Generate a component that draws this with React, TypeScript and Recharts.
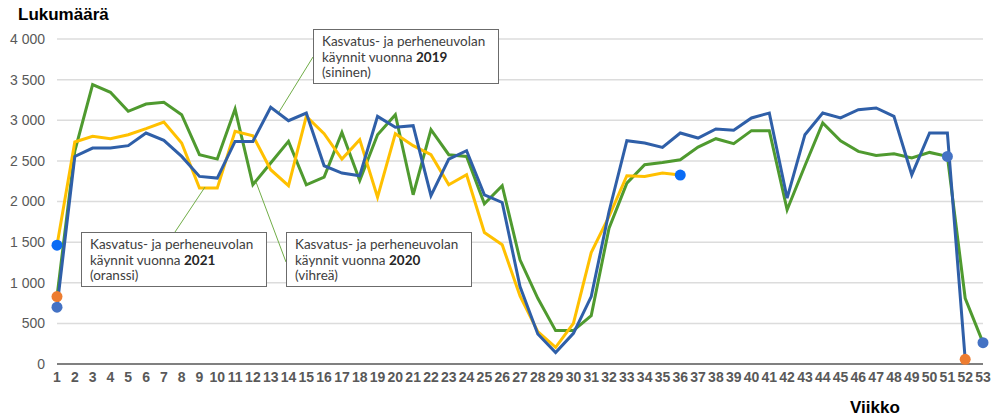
import React from "react";
import { CartesianGrid, Line, LineChart, XAxis, YAxis } from "recharts";

// viikot 1-53
const weeks = [
  1, 2, 3, 4, 5, 6, 7, 8, 9, 10, 11, 12, 13, 14, 15, 16, 17, 18, 19, 20, 21, 22, 23, 24, 25, 26, 27,
  28, 29, 30, 31, 32, 33, 34, 35, 36, 37, 38, 39, 40, 41, 42, 43, 44, 45, 46, 47, 48, 49, 50, 51, 52, 53,
];

const visits2019 = [
  700, 2555, 2658, 2658, 2687, 2843, 2752, 2555, 2309, 2288, 2740, 2740, 3159, 2995, 3089, 2440, 2350,
  2317, 3048, 2913, 2933, 2071, 2522, 2625, 2083, 1988, 953, 370, 140, 378, 830, 1877, 2748, 2720, 2666,
  2843, 2781, 2892, 2876, 3028, 3089, 2042, 2822, 3089, 3028, 3130, 3151, 3048, 2329, 2843, 2843, 58,
];

const visits2020 = [
  830, 2620, 3438, 3344, 3110, 3200, 3221, 3069, 2576, 2522, 3138, 2206, 2473, 2740, 2206, 2300, 2851,
  2259, 2822, 3069, 2083, 2884, 2576, 2555, 1972, 2194, 1282, 809, 411, 411, 596, 1672, 2226, 2453, 2481,
  2514, 2670, 2773, 2711, 2872, 2872, 1898, 2440, 2966, 2748, 2617, 2567, 2588, 2535, 2604, 2555, 809, 263,
];

const visits2021 = [
  1462, 2732, 2802, 2773, 2822, 2896, 2978, 2720, 2165, 2165, 2863, 2810, 2391, 2194, 3048, 2835, 2522,
  2761, 2054, 2835, 2687, 2576, 2206, 2329, 1619, 1467, 838, 398, 205, 501, 1372, 1816, 2317, 2309, 2350,
  2325,
];

// erilliset pistemerkit [viikko, arvo]
const brightBlueMarks = [
  [1, 1462],
  [36, 2325],
];
const blueMarks = [
  [1, 700],
  [51, 2555],
  [53, 263],
];
const orangeMarks = [
  [1, 830],
  [52, 58],
];

const yTicks = [0, 500, 1000, 1500, 2000, 2500, 3000, 3500, 4000];

function pick(marks: number[][], week: number) {
  const hit = marks.find((m) => m[0] === week);
  return hit ? hit[1] : null;
}

const rows = weeks.map((week, i) => ({
  week: String(week),
  v2019: visits2019[i] ?? null,
  v2020: visits2020[i] ?? null,
  v2021: visits2021[i] ?? null,
  mBright: pick(brightBlueMarks, week),
  mBlue: pick(blueMarks, week),
  mOrange: pick(orangeMarks, week),
}));

function fmt(v: number) {
  if (v < 1000) return String(v);
  return `${Math.floor(v / 1000)} ${String(v % 1000).padStart(3, "0")}`;
}

const boxStyle: React.CSSProperties = {
  position: "absolute",
  width: 186,
  height: 55,
  boxSizing: "border-box",
  border: "1px solid #6b6b6b",
  background: "#fff",
  padding: "4px 0 0 8px",
  fontFamily: "Lato, 'Open Sans', sans-serif",
  fontSize: 13.5,
  lineHeight: "15.5px",
  color: "#404040",
  whiteSpace: "nowrap",
};

function Note({ left, top, year, color }: { left: number; top: number; year: string; color: string }) {
  return (
    <div style={{ ...boxStyle, left, top }}>
      Kasvatus- ja perheneuvolan
      <br />
      käynnit vuonna <b style={{ color: "#262626" }}>{year}</b>
      <br />({color})
    </div>
  );
}

export default function App() {
  return (
    <div
      style={{
        position: "absolute",
        left: 0,
        top: 0,
        width: 998,
        height: 419,
        background: "#fff",
        fontFamily: "'Liberation Sans', Arial, sans-serif",
      }}
    >
      <LineChart width={998} height={419} data={rows} margin={{ top: 39, right: 15, left: 0, bottom: 25 }}>
        <CartesianGrid vertical={false} stroke="#dcdcdc" strokeWidth={1.5} />
        <XAxis
          dataKey="week"
          interval={0}
          height={30}
          tickLine={false}
          axisLine={{ stroke: "#808080", strokeWidth: 2 }}
          tick={{ fill: "#595959", fontSize: 14, fontWeight: 700 }}
        />
        <YAxis
          domain={[0, 4000]}
          ticks={yTicks}
          width={57}
          tickLine={false}
          axisLine={false}
          tickMargin={6}
          tickFormatter={fmt}
          tick={{ fill: "#595959", fontSize: 14 }}
        />
        <Line dataKey="v2020" stroke="#4f9a2f" strokeWidth={3} dot={false} isAnimationActive={false} />
        <Line dataKey="v2021" stroke="#ffc000" strokeWidth={3} dot={false} isAnimationActive={false} />
        <Line dataKey="v2019" stroke="#2f5fa8" strokeWidth={3} dot={false} isAnimationActive={false} />
        <Line
          dataKey="mBright"
          stroke="none"
          dot={{ r: 5.5, fill: "#0a6cf5", stroke: "none" }}
          activeDot={false}
          isAnimationActive={false}
        />
        <Line
          dataKey="mBlue"
          stroke="none"
          dot={{ r: 5.5, fill: "#4472c4", stroke: "none" }}
          activeDot={false}
          isAnimationActive={false}
        />
        <Line
          dataKey="mOrange"
          stroke="none"
          dot={{ r: 5.5, fill: "#ed7d31", stroke: "none" }}
          activeDot={false}
          isAnimationActive={false}
        />
      </LineChart>

      <svg
        width={998}
        height={419}
        style={{ position: "absolute", left: 0, top: 0, pointerEvents: "none" }}
      >
        <line x1={313} y1={57} x2={279} y2={112} stroke="#70ad47" strokeWidth={1} />
        <line x1={175} y1={232} x2={205} y2={187} stroke="#70ad47" strokeWidth={1} />
        <line x1={286} y1={262} x2={256} y2={182} stroke="#70ad47" strokeWidth={1} />
      </svg>

      <Note left={313} top={29} year="2019" color="sininen" />
      <Note left={81} top={232} year="2021" color="oranssi" />
      <Note left={286} top={232} year="2020" color="vihreä" />

      <div
        style={{
          position: "absolute",
          left: 18,
          top: 5,
          fontSize: 17,
          fontWeight: 700,
          color: "#000",
        }}
      >
        Lukumäärä
      </div>
      <div
        style={{
          position: "absolute",
          left: 850,
          top: 398,
          fontSize: 17,
          fontWeight: 700,
          color: "#000",
        }}
      >
        Viikko
      </div>
    </div>
  );
}
